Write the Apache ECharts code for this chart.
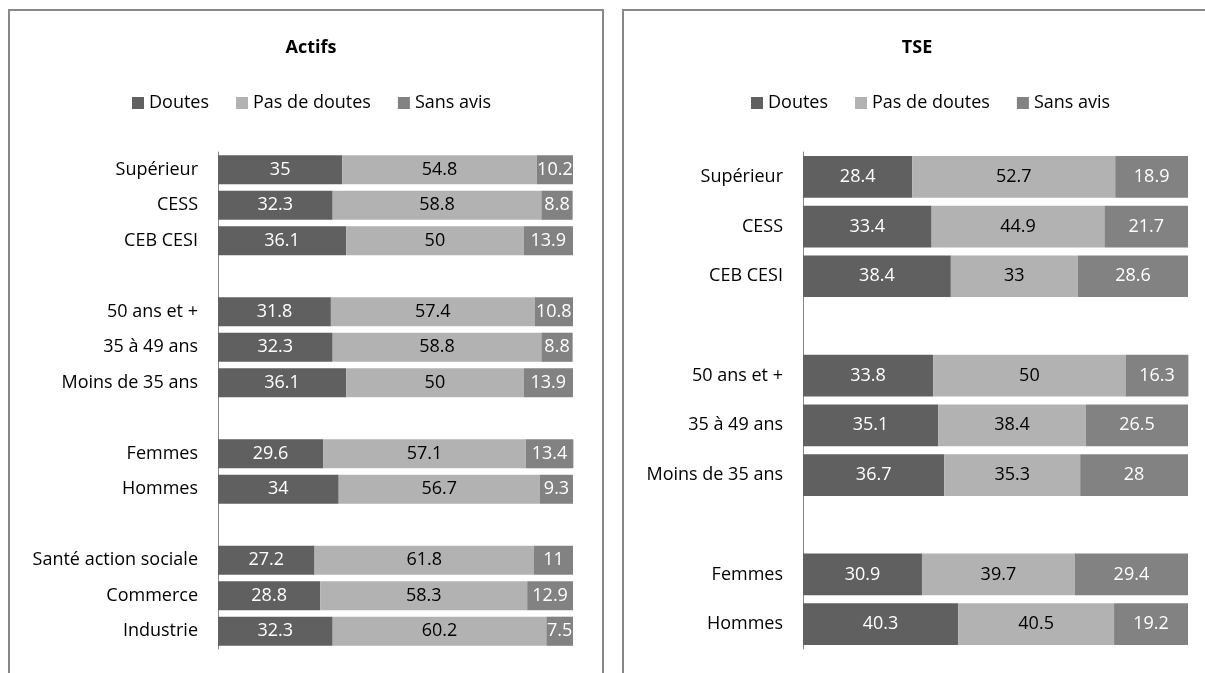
<!DOCTYPE html>
<html>
<head>
<meta charset="utf-8">
<script src="https://cdn.jsdelivr.net/npm/echarts@6/dist/echarts.min.js"></script>
<style>
  html, body { margin: 0; padding: 0; background: #ffffff; }
  #chart { width: 1205px; height: 673px; }
</style>
</head>
<body>
<div id="chart"></div>
<script>
// Répartition des avis (%) — blank entries leave a gap between groups
const seriesNames = ['Doutes', 'Pas de doutes', 'Sans avis'];

const actifsCategories = ['Supérieur', 'CESS', 'CEB CESI', '',
  '50 ans et +', '35 à 49 ans', 'Moins de 35 ans', '',
  'Femmes', 'Hommes', '',
  'Santé action sociale', 'Commerce', 'Industrie'];
const actifsDoutes    = [35, 32.3, 36.1, null, 31.8, 32.3, 36.1, null, 29.6, 34, null, 27.2, 28.8, 32.3];
const actifsPasDoutes = [54.8, 58.8, 50, null, 57.4, 58.8, 50, null, 57.1, 56.7, null, 61.8, 58.3, 60.2];
const actifsSansAvis  = [10.2, 8.8, 13.9, null, 10.8, 8.8, 13.9, null, 13.4, 9.3, null, 11, 12.9, 7.5];

const tseCategories = ['Supérieur', 'CESS', 'CEB CESI', '',
  '50 ans et +', '35 à 49 ans', 'Moins de 35 ans', '',
  'Femmes', 'Hommes'];
const tseDoutes    = [28.4, 33.4, 38.4, null, 33.8, 35.1, 36.7, null, 30.9, 40.3];
const tsePasDoutes = [52.7, 44.9, 33, null, 50, 38.4, 35.3, null, 39.7, 40.5];
const tseSansAvis  = [18.9, 21.7, 28.6, null, 16.3, 26.5, 28, null, 29.4, 19.2];

const FONT = "'Open Sans', 'Noto Sans', sans-serif";
const colors = ['#606060', '#b2b2b2', '#828282'];
const labelColors = ['#ffffff', '#000000', '#ffffff'];

function barSeries(name, data, idx, axisIdx, gap) {
  return {
    name: name,
    type: 'bar',
    stack: 'total' + axisIdx,
    xAxisIndex: axisIdx,
    yAxisIndex: axisIdx,
    data: data,
    barCategoryGap: gap,
    clip: false,
    itemStyle: { color: colors[idx] },
    label: {
      show: true,
      position: 'inside',
      color: labelColors[idx],
      fontFamily: FONT,
      fontSize: 18,
      formatter: p => (p.value == null ? '' : String(p.value))
    },
    emphasis: { disabled: true },
    animation: false
  };
}

const chart = echarts.init(document.getElementById('chart'), null, { renderer: 'canvas' });

const legendCommon = {
  data: seriesNames,
  padding: 0,
  itemWidth: 12,
  itemHeight: 12,
  itemGap: 27,
  icon: 'rect',
  textStyle: { fontFamily: FONT, fontSize: 18, color: '#000' }
};

const categoryAxis = (cats, gridIndex) => ({
  type: 'category',
  gridIndex: gridIndex,
  data: cats,
  inverse: true,
  axisLine: { show: true, lineStyle: { color: '#868686', width: 1 } },
  axisTick: { show: false },
  axisLabel: { fontFamily: FONT, fontSize: 18, color: '#000', margin: 20 },
  splitLine: { show: false }
});

const valueAxis = gridIndex => ({
  type: 'value',
  gridIndex: gridIndex,
  min: 0,
  max: 100,
  show: false,
  splitLine: { show: false }
});

chart.setOption({
  animation: false,
  backgroundColor: '#ffffff',
  graphic: [
    { type: 'rect', shape: { x: 9, y: 10, width: 594, height: 700 },
      style: { fill: 'none', stroke: '#888888', lineWidth: 2 }, silent: true },
    { type: 'rect', shape: { x: 623, y: 10, width: 620, height: 700 },
      style: { fill: 'none', stroke: '#888888', lineWidth: 2 }, silent: true }
  ],
  title: [
    { text: 'Actifs', left: 306, top: 34, textAlign: 'center',
      textStyle: { fontFamily: FONT, fontSize: 18, fontWeight: 'bold', color: '#000' } },
    { text: 'TSE', left: 912, top: 34, textAlign: 'center',
      textStyle: { fontFamily: FONT, fontSize: 18, fontWeight: 'bold', color: '#000' } }
  ],
  legend: [
    Object.assign({}, legendCommon, { left: 132, top: 94 }),
    Object.assign({}, legendCommon, { left: 751, top: 94 })
  ],
  grid: [
    { left: 218, width: 355, top: 152, height: 497 },
    { left: 803, width: 385, top: 152, height: 497 }
  ],
  xAxis: [valueAxis(0), valueAxis(1)],
  yAxis: [categoryAxis(actifsCategories, 0), categoryAxis(tseCategories, 1)],
  series: [
    barSeries('Doutes', actifsDoutes, 0, 0, '18%'),
    barSeries('Pas de doutes', actifsPasDoutes, 1, 0, '18%'),
    barSeries('Sans avis', actifsSansAvis, 2, 0, '18%'),
    barSeries('Doutes', tseDoutes, 0, 1, '16%'),
    barSeries('Pas de doutes', tsePasDoutes, 1, 1, '16%'),
    barSeries('Sans avis', tseSansAvis, 2, 1, '16%')
  ]
});
</script>
</body>
</html>
